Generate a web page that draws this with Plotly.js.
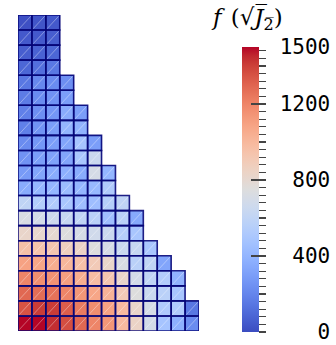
<!DOCTYPE html>
<html><head><meta charset="utf-8">
<script src="https://cdn.plot.ly/plotly-3.0.1.min.js"></script>
<style>html,body{margin:0;padding:0;background:#fff;}#chart{width:336px;height:345px;}</style>
</head><body><div id="chart"></div>
<script>
// rows listed from TOP to BOTTOM; each row starts at column 0
const zRowsTopDown = [
  [15,30,45],
  [45,45,60],
  [60,75,90],
  [90,120,150],
  [150,210,225,240],
  [165,225,255,300],
  [180,240,270,360,300],
  [180,255,300,405,390],
  [225,270,300,330,480,300],
  [255,300,315,330,495,645],
  [285,330,360,375,360,705,405],
  [360,405,405,435,405,420,525],
  [600,540,525,495,450,450,555,600],
  [720,690,660,630,600,570,450,570,345],
  [825,810,795,750,705,675,645,555,495],
  [960,945,930,870,840,750,705,645,630,495],
  [1095,1080,1050,1005,960,900,825,720,570,600,330],
  [1200,1170,1155,1110,1050,975,930,825,690,600,540,390],
  [1290,1275,1260,1200,1140,1080,1020,900,750,645,570,495],
  [1350,1410,1410,1320,1230,1170,1095,990,825,705,525,525,150],
  [1500,1500,1440,1365,1290,1200,1140,990,840,690,480,375,225]
];
const zMin = 0, zMax = 1500;
const majorTicks = [0,400,800,1200];
const labelTicks = [0,400,800,1200,1500];
const labelText = ['\u00a0\u00a0\u00a00','\u00a0400','\u00a0800','1200','1500'];
const minorStep = 40;

const coolwarm = [
 [0,'rgb(59,76,192)'],[0.03125,'rgb(68,90,204)'],[0.0625,'rgb(77,104,215)'],[0.09375,'rgb(87,117,225)'],
 [0.125,'rgb(98,130,234)'],[0.15625,'rgb(108,142,241)'],[0.1875,'rgb(119,154,247)'],[0.21875,'rgb(130,165,251)'],
 [0.25,'rgb(141,176,254)'],[0.28125,'rgb(152,185,255)'],[0.3125,'rgb(163,194,255)'],[0.34375,'rgb(174,201,253)'],
 [0.375,'rgb(184,208,249)'],[0.40625,'rgb(194,213,244)'],[0.4375,'rgb(204,217,238)'],[0.46875,'rgb(213,219,230)'],
 [0.5,'rgb(221,221,221)'],[0.53125,'rgb(229,216,209)'],[0.5625,'rgb(236,211,197)'],[0.59375,'rgb(241,204,185)'],
 [0.625,'rgb(245,196,173)'],[0.65625,'rgb(247,187,160)'],[0.6875,'rgb(247,177,148)'],[0.71875,'rgb(247,166,135)'],
 [0.75,'rgb(244,154,123)'],[0.78125,'rgb(241,141,111)'],[0.8125,'rgb(236,127,99)'],[0.84375,'rgb(229,112,88)'],
 [0.875,'rgb(222,96,77)'],[0.90625,'rgb(213,80,66)'],[0.9375,'rgb(203,62,56)'],[0.96875,'rgb(192,40,47)'],[1,'rgb(180,4,38)']
];

const nRows = zRowsTopDown.length;
const nCols = Math.max(...zRowsTopDown.map(r => r.length));
const z = [];
for (let i = nRows - 1; i >= 0; i--) {
  const row = [];
  for (let c = 0; c < nCols; c++) row.push(c < zRowsTopDown[i].length ? zRowsTopDown[i][c] : null);
  z.push(row);
}
const xs = [...Array(nCols).keys()];
const ys = [...Array(nRows).keys()];

// cell outlines and hatch lines derived from the data grid
const bx = [], by = [], hx = [], hy = [];
for (let yi = 0; yi < nRows; yi++) for (let c = 0; c < nCols; c++) {
  if (z[yi][c] === null) continue;
  bx.push(c-0.5, c+0.5, c+0.5, c-0.5, c-0.5, null);
  by.push(yi-0.5, yi-0.5, yi+0.5, yi+0.5, yi-0.5, null);
  hx.push(c-0.42, c+0.42, null);
  hy.push(yi-0.42, yi+0.42, null);
}
const minorVals = [];
for (let v = zMin; v < zMax; v += minorStep) minorVals.push(v);

const cbBase = {thickness:17, thicknessmode:'pixels', len:285, lenmode:'pixels',
  x:242/336, xanchor:'left', xref:'container', y:-0.003, yanchor:'bottom', yref:'paper',
  outlinewidth:0, xpad:0, ypad:0, tickmode:'array'};

const traces = [
  {type:'heatmap', x:xs, y:ys, z:z, zmin:zMin, zmax:zMax, colorscale:coolwarm, hoverongaps:false,
   colorbar:Object.assign({}, cbBase, {tickvals:minorVals, ticks:'outside', ticklen:7, tickwidth:1.2, tickcolor:'#444', showticklabels:false})},
  {type:'scatter', mode:'lines', x:hx, y:hy, line:{color:'rgba(255,255,255,0.45)', width:0.8}, hoverinfo:'skip', showlegend:false},
  {type:'scatter', mode:'lines', x:bx, y:by, line:{color:'rgba(5,5,120,0.9)', width:1.6}, hoverinfo:'skip', showlegend:false},
  {type:'scatter', mode:'markers', x:[null], y:[null], showlegend:false, hoverinfo:'skip',
   marker:{color:[zMin,zMax], cmin:zMin, cmax:zMax, colorscale:coolwarm, showscale:true,
     colorbar:Object.assign({}, cbBase, {tickvals:labelTicks, ticktext:labelText, ticks:'outside', ticklen:17, tickcolor:'rgba(0,0,0,0)',
       tickfont:{family:'DejaVu Sans Mono', size:21, color:'#000'}})}},
  {type:'scatter', mode:'markers', x:[null], y:[null], showlegend:false, hoverinfo:'skip',
   marker:{color:[zMin,zMax], cmin:zMin, cmax:zMax, colorscale:coolwarm, showscale:true,
     colorbar:Object.assign({}, cbBase, {tickvals:majorTicks, ticks:'inside', ticklen:8, tickwidth:1.2, tickcolor:'#444', showticklabels:false})}}
];

const layout = {
  width:336, height:345, margin:{l:18, r:137, t:15, b:14, autoexpand:false},
  paper_bgcolor:'#fff', plot_bgcolor:'#fff', showlegend:false,
  xaxis:{range:[-0.5, nCols-0.5], visible:false, fixedrange:true},
  yaxis:{range:[-0.5, nRows-0.5], visible:false, fixedrange:true},
  annotations:[{xref:'paper', yref:'paper', x:(247-18)/181, y:(331-19)/316, xanchor:'center', yanchor:'middle', showarrow:false,
    text:'<i>f</i>\u2009\u2009(\u221a<i>J\u0305</i><sub>2\u0305</sub>)', font:{family:'DejaVu Serif', size:23, color:'#000'}}]
};
Plotly.newPlot('chart', traces, layout, {displayModeBar:false, staticPlot:true});
</script></body></html>
